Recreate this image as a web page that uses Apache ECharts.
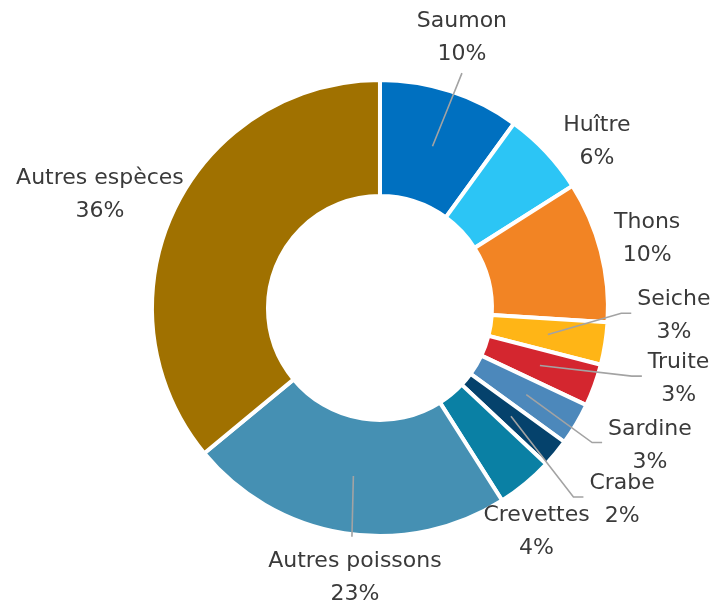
<!DOCTYPE html>
<html>
<head>
<meta charset="utf-8">
<script src="https://cdn.jsdelivr.net/npm/echarts@6/dist/echarts.min.js"></script>
<style>
  html, body { margin: 0; padding: 0; background: #fff; }
  #chart { width: 718px; height: 607px; }
</style>
</head>
<body>
<div id="chart"></div>
<script>
// data
const categories = ['Saumon', 'Huître', 'Thons', 'Seiche', 'Truite', 'Sardine', 'Crabe', 'Crevettes', 'Autres poissons', 'Autres espèces']
const values = [10, 6, 10, 3, 3, 3, 2, 4, 23, 36]

// styling / label placement
const colors = ['#0070C0', '#2CC5F5', '#F28424', '#FFB516', '#D4262F', '#4C88BB', '#05426C', '#0A80A4', '#4590B3', '#A07100']
const labelAngle = [16.9, 52.6, 75.5, 91.6, 103.4, 117, 128.4, 145, 185.3, 292]
const labelRadius = [282, 273, 276, 294, 307, 303, 309, 273, 271, 302]
const lineMode = ['up', 'none', 'none', 'elbow', 'elbow', 'elbow', 'elbow', 'none', 'down', 'none']

const CX = 0.5292
const CY = 0.5074
const RADIUS = [112, 228]

const chart = echarts.init(document.getElementById('chart'))

const total = values.reduce((s, v) => s + v, 0)
function midAngle(i) {
  let before = 0
  for (let k = 0; k < i; k++) before += values[k]
  return (before + values[i] / 2) / total * 2 * Math.PI
}

function layoutLabel(params) {
  const i = params.dataIndex
  const cx = chart.getWidth() * CX
  const cy = chart.getHeight() * CY
  const a = labelAngle[i] * Math.PI / 180
  const x = cx + labelRadius[i] * Math.sin(a)
  const y = cy - labelRadius[i] * Math.cos(a)
  const out = { x: x, y: y, align: 'center', verticalAlign: 'middle' }
  const m = midAngle(i)
  const sx = cx + 170 * Math.sin(m)
  const sy = cy - 170 * Math.cos(m)
  const lw = params.labelRect.width
  const lh = params.labelRect.height
  if (lineMode[i] === 'elbow') {
    const ex = x - lw / 2 - 6
    const ey = y - 3
    out.labelLinePoints = [[sx, sy], [ex - 10, ey], [ex, ey]]
  } else if (lineMode[i] === 'up') {
    const ey = y + lh / 2 + 2
    out.labelLinePoints = [[sx, sy], [(sx + x) / 2, (sy + ey) / 2], [x, ey]]
  } else if (lineMode[i] === 'down') {
    const ey = y - lh / 2 - 8
    out.labelLinePoints = [[sx, sy], [(sx + x - 3) / 2, (sy + ey) / 2], [x - 3, ey]]
  }
  return out
}

chart.setOption({
  backgroundColor: '#ffffff',
  animation: false,
  series: [
    {
      // the ring
      type: 'pie',
      z: 2,
      center: [CX * 100 + '%', CY * 100 + '%'],
      radius: RADIUS,
      startAngle: 90,
      clockwise: true,
      silent: true,
      itemStyle: {
        borderColor: '#ffffff',
        borderWidth: 4
      },
      emphasis: { disabled: true },
      label: { show: false },
      labelLine: { show: false },
      data: categories.map((name, i) => ({
        name: name,
        value: values[i],
        itemStyle: { color: colors[i] }
      }))
    },
    {
      // labels and leader lines, drawn over the ring
      type: 'pie',
      z: 3,
      center: [CX * 100 + '%', CY * 100 + '%'],
      radius: RADIUS,
      startAngle: 90,
      clockwise: true,
      silent: true,
      avoidLabelOverlap: false,
      itemStyle: {
        color: 'rgba(0,0,0,0)',
        borderWidth: 0
      },
      emphasis: { disabled: true },
      label: {
        show: true,
        position: 'outside',
        fontFamily: 'DejaVu Sans',
        fontSize: 22,
        lineHeight: 33,
        color: '#3a3a3a',
        formatter: (p) => p.name + '\n' + p.value + '%'
      },
      labelLine: {
        show: true,
        length: 10,
        length2: 10,
        lineStyle: { color: '#a3a3a3', width: 1.6 }
      },
      labelLayout: layoutLabel,
      data: categories.map((name, i) => ({
        name: name,
        value: values[i],
        labelLine: { show: lineMode[i] !== 'none' }
      }))
    }
  ]
})
</script>
</body>
</html>
